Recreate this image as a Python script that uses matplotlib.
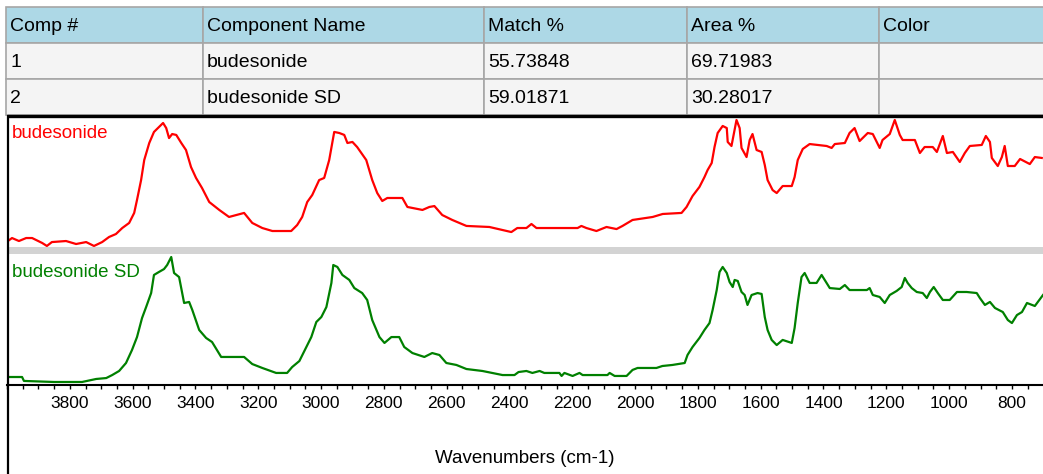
import numpy as np
import matplotlib
matplotlib.use("Agg")
import matplotlib.pyplot as plt
from matplotlib.patches import Rectangle

# Search results table
col_names = ["Comp #", "Component Name", "Match %", "Area %", "Color"]
comp_ids = ["1", "2"]
comp_names = ["budesonide", "budesonide SD"]
match_pct = ["55.73848", "59.01871"]
area_pct = ["69.71983", "30.28017"]

# budesonide spectrum (wavenumber cm-1, relative absorbance)
wn_ref = [4000, 3984, 3962, 3939, 3920, 3888, 3873, 3857, 3812, 3780, 3748, 3723, 3697,
          3675, 3653, 3633, 3611, 3595, 3586, 3573, 3563, 3547, 3532, 3516, 3503, 3493,
          3484, 3474, 3461, 3445, 3430, 3414, 3398, 3379, 3356, 3324, 3293, 3245, 3219,
          3187, 3155, 3095, 3076, 3060, 3044, 3028, 3006, 2990, 2974, 2958, 2942, 2926,
          2916, 2900, 2885, 2856, 2837, 2821, 2805, 2789, 2741, 2725, 2677, 2655, 2639,
          2614, 2582, 2537, 2464, 2394, 2375, 2346, 2330, 2314, 2183, 2171, 2155, 2123,
          2091, 2059, 2040, 2008, 1944, 1912, 1852, 1836, 1817, 1795, 1779, 1769, 1756,
          1747, 1737, 1721, 1708, 1705, 1693, 1683, 1677, 1667, 1661, 1645, 1635, 1626,
          1613, 1597, 1587, 1578, 1562, 1549, 1530, 1501, 1492, 1482, 1466, 1444, 1390,
          1374, 1364, 1332, 1317, 1301, 1285, 1259, 1243, 1221, 1212, 1189, 1173, 1157,
          1148, 1109, 1093, 1078, 1052, 1039, 1020, 1007, 988, 966, 950, 934, 896, 883,
          870, 864, 845, 832, 823, 813, 791, 774, 743, 727, 705]
abs_ref = [4.1, 6.9, 4.6, 6.9, 6.9, 3.1, 0.8, 3.8, 4.6, 2.3, 3.8, 0.8, 3.8,
           7.7, 10.0, 14.6, 18.5, 26.2, 36.2, 51.5, 66.9, 80.0, 88.5, 92.3, 95.4, 91.5,
           83.8, 86.9, 86.2, 80.0, 74.6, 61.5, 53.1, 45.4, 34.6, 28.5, 23.1, 26.2, 18.5,
           14.6, 12.3, 12.3, 16.9, 23.1, 34.6, 40.0, 51.5, 53.1, 66.9, 88.5, 87.7, 86.2,
           80.0, 80.8, 76.9, 66.9, 51.5, 41.5, 35.4, 37.7, 37.7, 30.8, 28.5, 30.8, 31.5,
           24.6, 20.8, 16.2, 15.4, 11.5, 14.6, 14.6, 17.7, 14.6, 14.6, 16.2, 14.6, 12.3,
           15.4, 13.8, 16.2, 20.8, 23.1, 25.4, 26.2, 30.8, 39.2, 46.2, 53.8, 59.2, 64.6,
           76.9, 87.7, 93.1, 91.5, 80.8, 77.7, 90.0, 97.7, 91.5, 76.2, 69.2, 82.3, 86.9,
           74.6, 73.1, 63.1, 51.5, 43.8, 41.5, 46.9, 46.9, 53.8, 66.9, 75.4, 79.2, 77.7,
           76.2, 79.2, 80.0, 87.7, 91.5, 81.5, 87.7, 86.9, 76.2, 82.3, 86.9, 97.7, 86.2,
           82.3, 82.3, 72.3, 76.9, 76.9, 73.1, 85.4, 72.3, 73.1, 65.4, 72.3, 77.7, 78.5, 85.4,
           80.8, 68.5, 62.3, 69.2, 77.7, 62.3, 62.3, 67.7, 63.8, 69.2, 68.5]

# budesonide SD spectrum
wn_sd = [4000, 3952, 3946, 3850, 3761, 3716, 3684, 3665, 3643, 3621, 3602, 3586, 3570,
         3557, 3541, 3532, 3516, 3500, 3490, 3477, 3468, 3452, 3436, 3420, 3410, 3388,
         3366, 3347, 3318, 3245, 3219, 3187, 3143, 3108, 3092, 3069, 3047, 3031, 3015,
         2999, 2983, 2967, 2961, 2948, 2932, 2910, 2894, 2869, 2853, 2837, 2814, 2798,
         2776, 2751, 2735, 2709, 2671, 2646, 2623, 2601, 2569, 2537, 2486, 2422, 2384,
         2371, 2346, 2327, 2304, 2289, 2241, 2234, 2225, 2199, 2177, 2167, 2088, 2081,
         2065, 2027, 2008, 1992, 1932, 1913, 1881, 1842, 1833, 1817, 1795, 1779, 1763,
         1753, 1740, 1731, 1721, 1708, 1699, 1689, 1683, 1673, 1661, 1651, 1642, 1629,
         1610, 1597, 1587, 1578, 1565, 1549, 1530, 1501, 1492, 1482, 1470, 1460, 1444,
         1422, 1406, 1390, 1380, 1348, 1332, 1317, 1262, 1253, 1243, 1221, 1205, 1189,
         1167, 1151, 1141, 1132, 1119, 1103, 1084, 1071, 1061, 1049, 1036, 1020, 998,
         975, 944, 912, 902, 886, 870, 854, 829, 813, 800, 784, 768, 752, 727, 701]
abs_sd = [6.1, 6.1, 3.1, 2.3, 2.3, 4.6, 5.3, 7.6, 10.7, 16.8, 26.7, 36.6, 51.1,
          59.5, 70.2, 84.0, 86.3, 88.5, 91.6, 97.7, 85.5, 82.4, 62.6, 63.4, 57.3, 42.0,
          35.9, 32.8, 21.4, 21.4, 16.0, 13.0, 9.2, 9.2, 13.7, 18.3, 29.0, 36.6, 48.1,
          51.9, 59.5, 77.9, 91.6, 90.1, 84.0, 80.2, 74.0, 70.2, 64.9, 49.6, 36.6, 32.1,
          36.6, 36.6, 29.0, 24.4, 21.4, 24.4, 22.9, 16.8, 15.3, 12.2, 10.7, 7.6, 7.6,
          9.9, 10.7, 9.2, 10.7, 9.2, 9.2, 6.9, 9.2, 6.9, 9.2, 7.6, 7.6, 9.2,
          6.9, 6.9, 11.5, 13.0, 13.0, 14.5, 15.3, 16.8, 22.9, 29.0, 35.9, 42.0, 47.3,
          57.3, 72.5, 86.3, 90.1, 85.5, 78.6, 74.8, 80.2, 79.4, 71.0, 68.7, 61.1, 68.7,
          70.2, 69.5, 51.9, 42.0, 34.4, 30.5, 34.4, 32.1, 43.5, 62.6, 82.4, 85.5, 77.9,
          77.9, 84.0, 77.9, 74.0, 73.3, 76.3, 72.5, 72.5, 74.0, 68.7, 67.2, 62.6, 68.7,
          71.8, 74.8, 81.7, 77.9, 74.0, 71.0, 70.2, 66.4, 71.0, 74.8, 70.2, 64.9, 64.9,
          71.0, 71.0, 70.2, 66.4, 61.1, 63.4, 58.8, 55.7, 49.6, 47.3, 53.4, 55.7, 62.6, 60.3, 68.7]

W, H = 1043, 474
plt.rcParams["font.family"] = ["Liberation Sans", "DejaVu Sans"]

fig = plt.figure(figsize=(W / 100, H / 100), dpi=100)

def fbox(x0, y0, x1, y1):
    # pixel box (top-left origin) -> figure fraction rect
    return [x0 / W, 1 - y1 / H, (x1 - x0) / W, (y1 - y0) / H]

ax1 = fig.add_axes(fbox(7, 117, W, 247), zorder=1)
ax2 = fig.add_axes(fbox(7, 254, W, 385), zorder=1, sharex=ax1)

ax1.plot(wn_ref, abs_ref, color="#ff0000", lw=1.6)
ax2.plot(wn_sd, abs_sd, color="#008000", lw=1.6)

for ax in (ax1, ax2):
    ax.set_ylim(0, 100)
    ax.set_yticks([])
    for s in ax.spines.values():
        s.set_visible(False)
ax1.set_xlim(4000, 701)

ax1.tick_params(axis="x", which="both", bottom=False, labelbottom=False)
ax2.spines["bottom"].set_visible(True)
ax2.spines["bottom"].set_linewidth(1.5)
ax2.set_xticks(np.arange(800, 3801, 200))
ax2.set_xticks(np.arange(750, 4001, 50), minor=True)
ax2.tick_params(axis="x", which="both", direction="out", length=3, width=1,
                pad=5, labelsize=12.5)
ax2.set_xlabel("Wavenumbers (cm-1)", fontsize=13.5, labelpad=28)

ax1.text(0.005, 0.87, "budesonide", transform=ax1.transAxes, color="#ff0000",
         fontsize=13.5, va="center")
ax2.text(0.005, 0.86, "budesonide SD", transform=ax2.transAxes, color="#008000",
         fontsize=13.5, va="center")

# overlay in pixel coordinates: table, separator band and frame lines
ov = fig.add_axes([0, 0, 1, 1], zorder=3)
ov.set_xlim(0, W)
ov.set_ylim(H, 0)
ov.axis("off")
ov.patch.set_alpha(0)

col_x = [6, 203, 484, 687, 879, W + 2]
row_y = [7, 43, 79, 115]
rows = [col_names] + [list(r) + [""] for r in zip(comp_ids, comp_names, match_pct, area_pct)]
for r, cells in enumerate(rows):
    fc = "#add8e6" if r == 0 else "#f4f4f4"
    for c, txt in enumerate(cells):
        x0, x1 = col_x[c], col_x[c + 1]
        y0, y1 = row_y[r], row_y[r + 1]
        ov.add_patch(Rectangle((x0, y0), x1 - x0, y1 - y0, facecolor=fc,
                               edgecolor="#a6a6a6", lw=1.2))
        ov.text(x0 + 4, (y0 + y1) / 2 + 1, txt, fontsize=14, va="center",
                ha="left", color="#000000")

ov.add_patch(Rectangle((7, 247), W - 7, 7, facecolor="#d3d3d3", edgecolor="none"))
ov.plot([7, W], [116, 116], color="black", lw=2.4, solid_capstyle="butt")
ov.plot([8, 8], [115, H], color="black", lw=1.6, solid_capstyle="butt")

fig.savefig("out.png", dpi=100)
